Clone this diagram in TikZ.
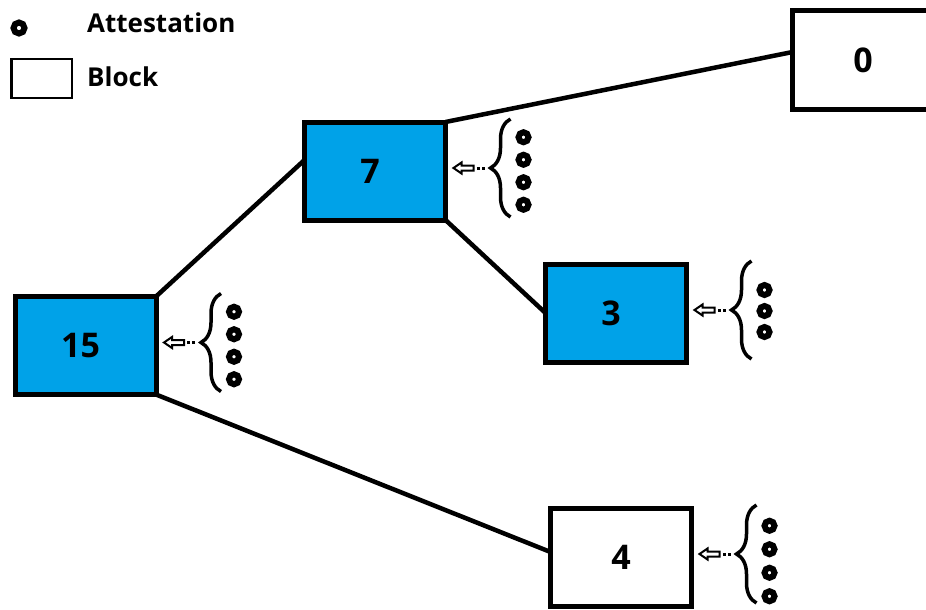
\documentclass[tikz,border=0pt]{standalone}
\usepackage{fontspec}
\setmainfont{Open Sans}
\usepackage{tikz}
\usetikzlibrary{positioning, decorations.pathreplacing, calc}
\usepackage{xcolor}
\definecolor{blockblue}{HTML}{00A2E8}

\tikzset{
  block/.style={draw, line width=5pt, minimum width=141pt, minimum height=98pt,
    inner sep=0pt, outer sep=0pt, font=\fontsize{34}{40}\selectfont\bfseries},
  voted/.style={block, fill=blockblue},
  link/.style={line width=4.5pt},
  att/.style={circle, draw, line width=6pt, minimum size=10pt, inner sep=0pt},
  attbrace/.style={decorate, decoration={brace, amplitude=20pt, aspect=0.5}, line width=3.5pt},
  dotlink/.style={line width=3pt, dash pattern=on 3pt off 2pt},
  hollow/.style={line width=2pt, line join=miter},
  legendtext/.style={font=\fontsize{26}{30}\selectfont\bfseries, inner sep=0pt, anchor=base west}
}

\begin{document}
\begin{tikzpicture}[x=1pt, y=-1pt]
\useasboundingbox (0,0) rectangle (926,610);
\clip (0,0) rectangle (926,610);

% Legend
\node[att, line width=6pt, minimum size=11pt] (legatt) at (19,28) {};
\node[legendtext] (legatttext) at (87,33) {Attestation};
\node[draw, line width=2.5pt, minimum width=60.5pt, minimum height=38.5pt, inner sep=0pt] (legblock) at (41.5,78.5) {};
\node[legendtext] (legblocktext) at (87,86) {Block};

% Blocks
\node[block] (b0) at (863,60) {0};
\node[voted] (b7) at (375,171) {7\kern10pt};
\node[voted] (b3) at (616,313) {3\kern10pt};
\node[voted] (b15) at (85.5,345.5) {15\kern10pt};
\node[block] (b4) at (621,557) {4};

% Chain links
\draw[link] (b7.north east) -- ([yshift=8pt]b0.west);
\draw[link] (b15.north east) -- ([yshift=11pt]b7.west);
\draw[link] (b7.south east) -- (b3.west);
\draw[link] (b15.south east) -- ([yshift=5pt]b4.west);

% Attestations for block 7
\coordinate (t7) at ([xshift=45pt, yshift=3pt]b7.east);
\draw[attbrace] ([xshift=65pt, yshift=3pt]b7.south east) -- ([xshift=65pt, yshift=3pt]b7.north east);
\draw[dotlink] ([xshift=-6pt]t7) -- ++(-8,0);
\draw[hollow] ([xshift=-37pt]t7) -- ++(8,-5.5) -- ++(0,3) -- ++(12,0) -- ++(0,5) -- ++(-12,0) -- ++(0,3) -- cycle;
\foreach \k in {0,...,3}
  \node[att] (a7-\k) at ([xshift=78pt, yshift={(1.5-\k)*22.5pt}]b7.east) {};

% Attestations for block 15
\coordinate (t15) at ([xshift=45pt, yshift=3pt]b15.east);
\draw[attbrace] ([xshift=65pt, yshift=3pt]b15.south east) -- ([xshift=65pt, yshift=3pt]b15.north east);
\draw[dotlink] ([xshift=-6pt]t15) -- ++(-8,0);
\draw[hollow] ([xshift=-37pt]t15) -- ++(8,-5.5) -- ++(0,3) -- ++(12,0) -- ++(0,5) -- ++(-12,0) -- ++(0,3) -- cycle;
\foreach \k in {0,...,3}
  \node[att] (a15-\k) at ([xshift=78pt, yshift={(1.5-\k)*22.5pt}]b15.east) {};

% Attestations for block 3
\coordinate (t3) at ([xshift=45pt, yshift=3pt]b3.east);
\draw[attbrace] ([xshift=65pt, yshift=3pt]b3.south east) -- ([xshift=65pt, yshift=3pt]b3.north east);
\draw[dotlink] ([xshift=-6pt]t3) -- ++(-8,0);
\draw[hollow] ([xshift=-37pt]t3) -- ++(8,-5.5) -- ++(0,3) -- ++(12,0) -- ++(0,5) -- ++(-12,0) -- ++(0,3) -- cycle;
\foreach \k in {0,...,2}
  \node[att] (a3-\k) at ([xshift=78pt, yshift={(1-\k)*21pt+2pt}]b3.east) {};

% Attestations for block 4
\coordinate (t4) at ([xshift=45pt, yshift=3pt]b4.east);
\draw[attbrace] ([xshift=65pt, yshift=3pt]b4.south east) -- ([xshift=65pt, yshift=3pt]b4.north east);
\draw[dotlink] ([xshift=-6pt]t4) -- ++(-8,0);
\draw[hollow] ([xshift=-37pt]t4) -- ++(8,-5.5) -- ++(0,3) -- ++(12,0) -- ++(0,5) -- ++(-12,0) -- ++(0,3) -- cycle;
\foreach \k in {0,...,3}
  \node[att] (a4-\k) at ([xshift=78pt, yshift={(1.5-\k)*23.5pt-4pt}]b4.east) {};

\end{tikzpicture}
\end{document}
